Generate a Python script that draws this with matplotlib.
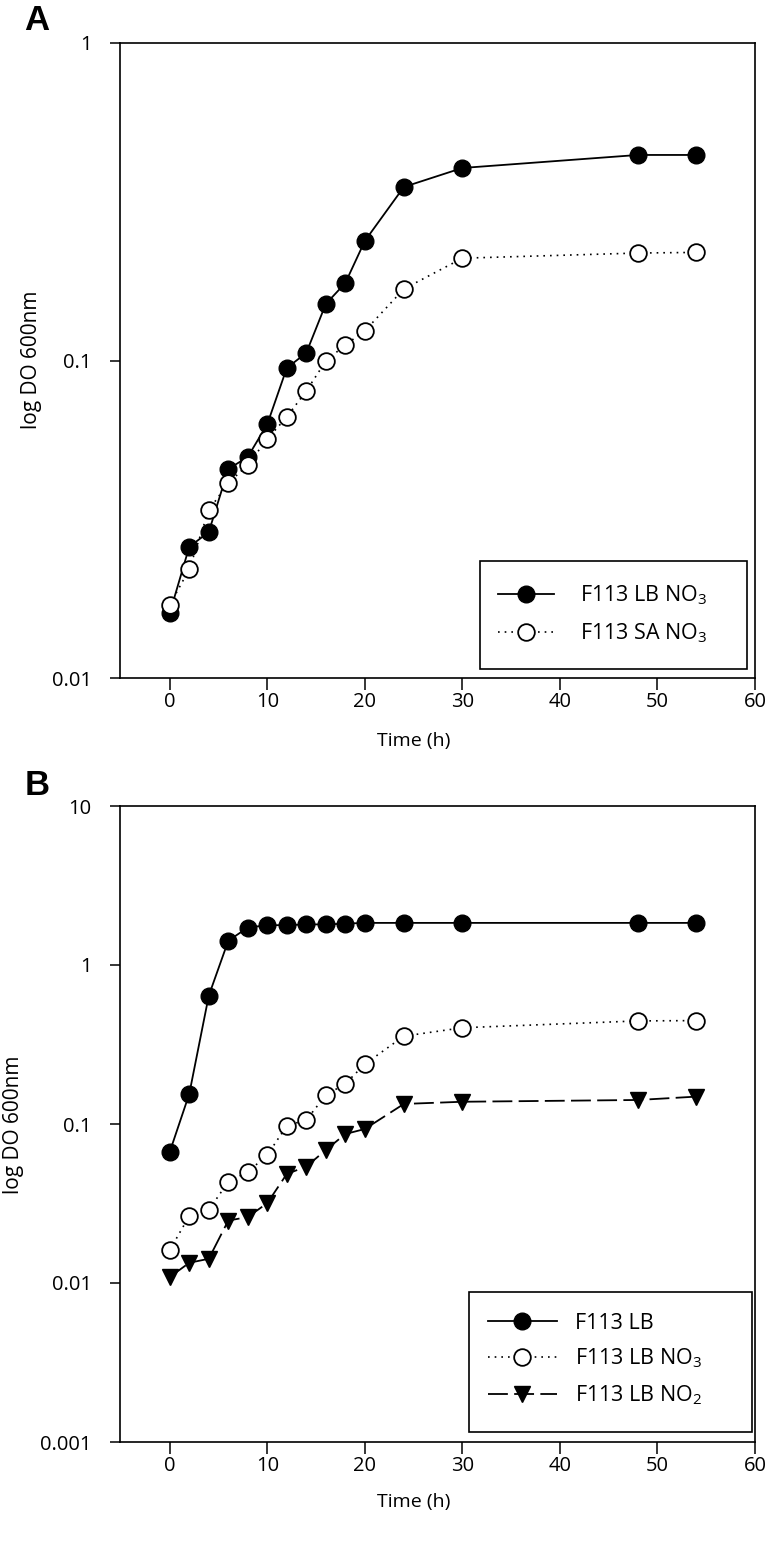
import matplotlib
matplotlib.use("Agg")
import matplotlib.pyplot as plt
from matplotlib.patches import Rectangle

plt.rcParams['font.family'] = ['Open Sans', 'DejaVu Sans']
plt.rcParams['mathtext.fontset'] = 'custom'
plt.rcParams['mathtext.rm'] = 'Open Sans'

# sampling times (h)
time_h = [0, 2, 4, 6, 8, 10, 12, 14, 16, 18, 20, 24, 30, 48, 54]

# panel A
a_lb_no3 = [0.016, 0.0259, 0.0288, 0.0455, 0.0497, 0.063, 0.0947, 0.1057, 0.1507,
            0.1754, 0.238, 0.352, 0.404, 0.444, 0.444]
a_sa_no3 = [0.017, 0.022, 0.0338, 0.0411, 0.0469, 0.0566, 0.0664, 0.0802, 0.0996,
            0.112, 0.124, 0.168, 0.210, 0.218, 0.219]

# panel B
b_lb = [0.0667, 0.1545, 0.641, 1.42, 1.72, 1.78, 1.78, 1.80, 1.80, 1.82, 1.84,
        1.84, 1.84, 1.84, 1.84]
b_lb_no3 = [0.0161, 0.0264, 0.0288, 0.0433, 0.0499, 0.0638, 0.0975, 0.106, 0.152,
            0.179, 0.238, 0.357, 0.403, 0.445, 0.447]
b_lb_no2 = [0.0109, 0.0134, 0.0142, 0.0247, 0.026, 0.0318, 0.0485, 0.054, 0.0686,
            0.0865, 0.093, 0.1337, 0.138, 0.1416, 0.1487]

xticks = [0, 10, 20, 30, 40, 50, 60]

W, H = 770, 1548
fig = plt.figure(figsize=(W/100, H/100), dpi=100)
axA = fig.add_axes([120/W, 1 - 678/H, 635/W, 635/H])
axB = fig.add_axes([120/W, 1 - 1442/H, 635/W, 636/H])

def style(ax, ylim, yticks, ylabels):
    ax.set_yscale('log')
    ax.set_xlim(-5.1, 60)
    ax.set_ylim(*ylim)
    ax.set_xticks(xticks)
    ax.set_yticks(yticks)
    ax.set_yticklabels(ylabels)
    ax.minorticks_off()
    ax.tick_params(axis='x', direction='out', length=8.5, width=1.1, labelsize=14.5, pad=1.5)
    ax.tick_params(axis='y', direction='out', length=7.5, width=1.1, labelsize=14.5, pad=13)
    for s in ax.spines.values():
        s.set_linewidth(1.2)

ms = 12

# A
lA1, = axA.plot(time_h, a_lb_no3, '-o', color='black', lw=1.3, ms=ms)
lA2, = axA.plot(time_h, a_sa_no3, 'o', linestyle=(0, (1, 3)), color='black', lw=1.2,
                ms=ms, mfc='white', mew=1.3)
style(axA, (0.01, 1), [0.01, 0.1, 1], ['0.01', '0.1', '1'])
legA = axA.legend([lA1, lA2], ['F113 LB NO$_\\mathregular{3}$', 'F113 SA NO$_\\mathregular{3}$'],
                  loc='center left', bbox_to_anchor=((498-120)/635, (678-614)/635),
                  borderaxespad=0, borderpad=0, frameon=False, fontsize=15.5,
                  handlelength=2.6, handletextpad=1.2, labelspacing=0.68)
axA.add_patch(Rectangle(((480-120)/635, (678-669)/635), (747-480)/635, (669-561)/635,
                        transform=axA.transAxes, fill=False, edgecolor='black', lw=1.2))

# B
lB1, = axB.plot(time_h, b_lb, '-o', color='black', lw=1.3, ms=ms)
lB2, = axB.plot(time_h, b_lb_no3, 'o', linestyle=(0, (1, 3)), color='black', lw=1.2,
                ms=ms, mfc='white', mew=1.3)
lB3, = axB.plot(time_h, b_lb_no2, 'v', linestyle=(0, (11, 3.5)), color='black', lw=1.3,
                ms=ms)
style(axB, (0.001, 10), [0.001, 0.01, 0.1, 1, 10], ['0.001', '0.01', '0.1', '1', '10'])
legB = axB.legend([lB1, lB2, lB3],
                  ['F113 LB', 'F113 LB NO$_\\mathregular{3}$', 'F113 LB NO$_\\mathregular{2}$'],
                  loc='center left', bbox_to_anchor=((488-120)/635, (1442-1360)/636),
                  borderaxespad=0, borderpad=0, frameon=False, fontsize=15.5,
                  handlelength=3.2, handletextpad=0.85, labelspacing=0.6)
axB.add_patch(Rectangle(((469-120)/635, (1442-1432)/636), (752-469)/635, (1432-1292)/636,
                        transform=axB.transAxes, fill=False, edgecolor='black', lw=1.2))

fig.text(32/W, 1 - 360/H, 'log DO 600nm', rotation=90, ha='center', va='center', fontsize=15)
fig.text(14/W, 1 - 1125/H, 'log DO 600nm', rotation=90, ha='center', va='center', fontsize=15)
fig.text(414/W, 1 - 741/H, 'Time (h)', ha='center', va='center', fontsize=14)
fig.text(414/W, 1 - 1502/H, 'Time (h)', ha='center', va='center', fontsize=14)

fig.text(37/W, 1 - 20/H, 'A', ha='center', va='center', fontsize=25,
         fontweight='bold', family='Liberation Sans')
fig.text(37/W, 1 - 785/H, 'B', ha='center', va='center', fontsize=25,
         fontweight='bold', family='Liberation Sans')

fig.savefig('out.png', dpi=100)
